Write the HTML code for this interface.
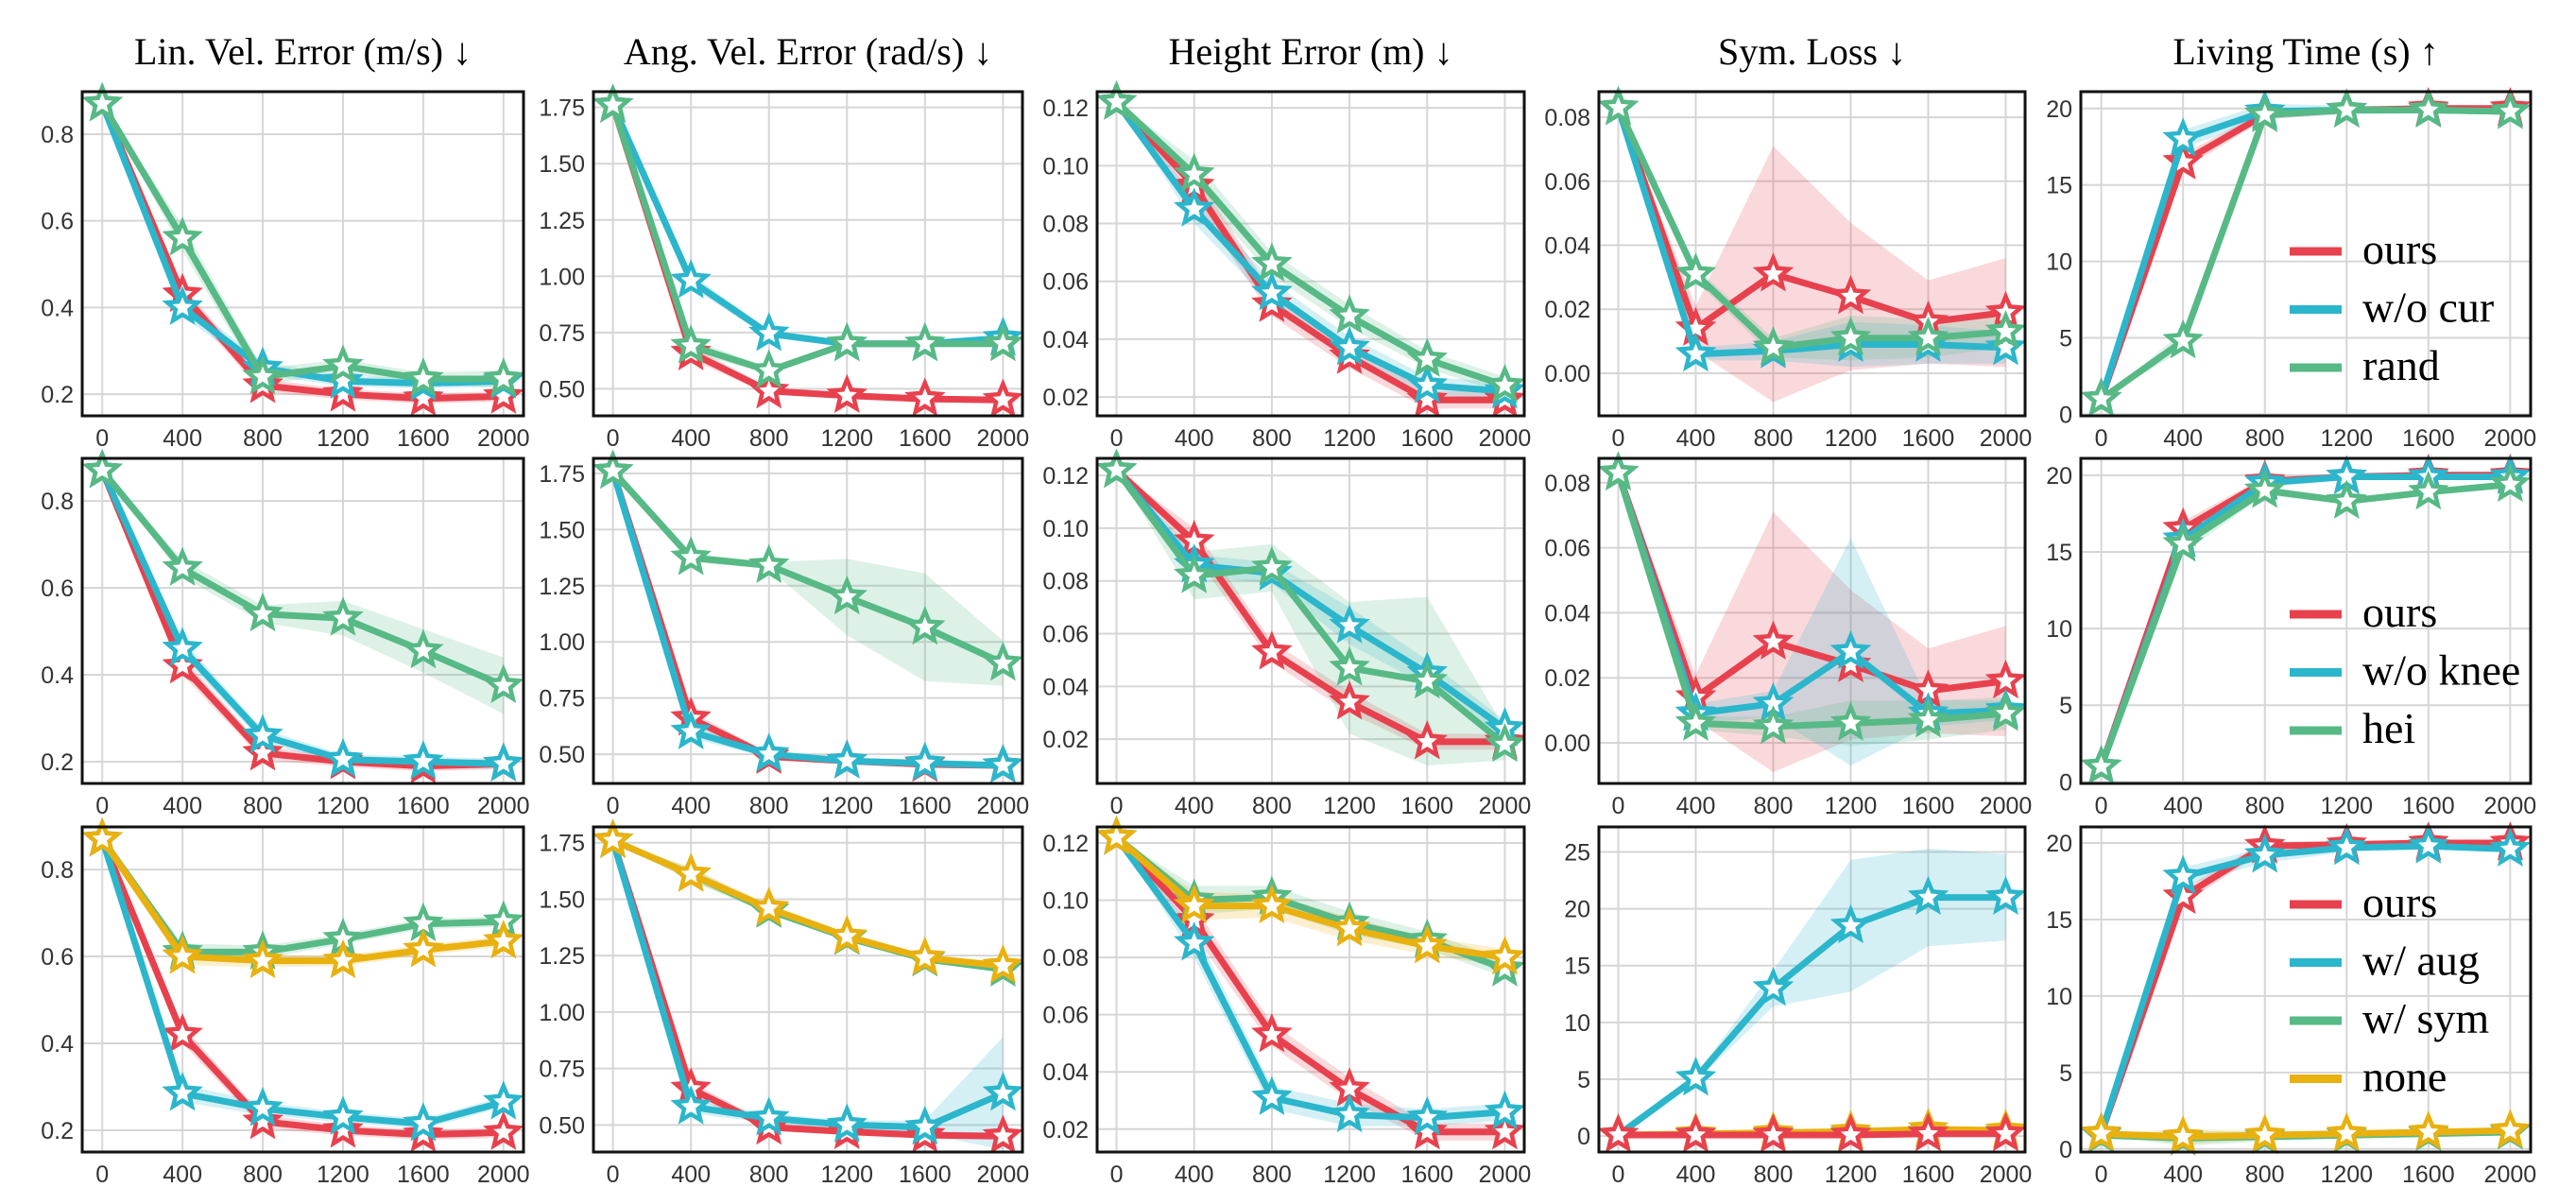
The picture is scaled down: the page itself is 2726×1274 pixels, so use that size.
<!DOCTYPE html>
<html><head><meta charset="utf-8">
<style>
html,body{margin:0;padding:0;background:#fff;}
svg{display:block;}
text{font-family:"Liberation Sans",sans-serif;}
.title{font-family:"Liberation Serif","DejaVu Serif",serif;font-size:40px;fill:#000;}
.leg{font-family:"Liberation Serif",serif;font-size:46px;fill:#000;}
.tick{font-size:25px;fill:#333;}
</style></head>
<body>
<svg id="fig" width="2726" height="1274" viewBox="0 0 2726 1274" xmlns="http://www.w3.org/2000/svg"></svg>
<script>
// ---- data ----
const steps = [0,400,800,1200,1600,2000];
const xTicks = [0,400,800,1200,1600,2000];
const titles = ["Lin. Vel. Error (m/s) \u2193","Ang. Vel. Error (rad/s) \u2193","Height Error (m) \u2193","Sym. Loss \u2193","Living Time (s) \u2191"];
const legendRow1 = ["ours","w/o cur","rand"];
const legendRow2 = ["ours","w/o knee","hei"];
const legendRow3 = ["ours","w/ aug","w/ sym","none"];

// Row 1: ours, w/o cur, rand
const r1_lin_ours = [0.87,0.43,0.22,0.20,0.19,0.195];
const r1_lin_cur  = [0.87,0.40,0.26,0.23,0.225,0.23];
const r1_lin_rand = [0.87,0.56,0.24,0.265,0.235,0.235];
const r1_ang_ours = [1.76,0.66,0.49,0.47,0.455,0.45];
const r1_ang_cur  = [1.76,0.98,0.745,0.70,0.70,0.725];
const r1_ang_rand = [1.76,0.69,0.58,0.70,0.70,0.70];
const r1_hei_ours = [0.122,0.093,0.052,0.034,0.019,0.019];
const r1_hei_cur  = [0.122,0.085,0.056,0.037,0.024,0.022];
const r1_hei_rand = [0.122,0.097,0.066,0.048,0.033,0.024];
const r1_sym_ours = [0.083,0.014,0.031,0.024,0.016,0.019];
const r1_sym_cur  = [0.083,0.006,0.007,0.009,0.009,0.008];
const r1_sym_rand = [0.083,0.031,0.008,0.011,0.011,0.013];
const r1_liv_ours = [1,16.5,19.6,19.9,20,20];
const r1_liv_cur  = [1,18,19.8,19.9,19.9,19.8];
const r1_liv_rand = [1,4.8,19.6,19.9,19.9,19.8];
// Row 2: ours, w/o knee, hei
const r2_lin_ours = [0.87,0.42,0.22,0.20,0.19,0.195];
const r2_lin_knee = [0.87,0.46,0.26,0.205,0.20,0.195];
const r2_lin_hei  = [0.87,0.645,0.54,0.53,0.455,0.375];
const r2_ang_ours = [1.76,0.66,0.49,0.47,0.455,0.45];
const r2_ang_knee = [1.76,0.60,0.50,0.47,0.46,0.45];
const r2_ang_hei  = [1.76,1.375,1.34,1.2,1.065,0.905];
const r2_hei_ours = [0.122,0.095,0.053,0.034,0.019,0.019];
const r2_hei_knee = [0.122,0.086,0.083,0.063,0.045,0.024];
const r2_hei_hei  = [0.122,0.082,0.085,0.047,0.042,0.018];
const r2_sym_ours = [0.083,0.014,0.031,0.024,0.016,0.019];
const r2_sym_knee = [0.083,0.009,0.012,0.028,0.009,0.010];
const r2_sym_hei  = [0.083,0.006,0.005,0.006,0.007,0.009];
const r2_liv_ours = [1,16.5,19.6,19.9,20,20];
const r2_liv_knee = [1,15.8,19.5,19.9,19.9,19.9];
const r2_liv_hei  = [1,15.5,19.0,18.3,18.9,19.4];
// Row 3: ours, w/ aug, w/ sym, none
const r3_lin_ours = [0.87,0.42,0.22,0.20,0.19,0.195];
const r3_lin_aug  = [0.87,0.285,0.25,0.23,0.215,0.265];
const r3_lin_sym  = [0.87,0.61,0.61,0.64,0.675,0.68];
const r3_lin_none = [0.87,0.60,0.59,0.59,0.615,0.635];
const r3_ang_ours = [1.76,0.66,0.49,0.47,0.455,0.45];
const r3_ang_aug  = [1.76,0.58,0.53,0.50,0.49,0.64];
const r3_ang_sym  = [1.76,1.61,1.45,1.33,1.235,1.19];
const r3_ang_none = [1.76,1.61,1.46,1.335,1.24,1.205];
const r3_hei_ours = [0.122,0.093,0.053,0.034,0.019,0.019];
const r3_hei_aug  = [0.122,0.085,0.031,0.025,0.024,0.026];
const r3_hei_sym  = [0.122,0.100,0.101,0.092,0.086,0.076];
const r3_hei_none = [0.122,0.098,0.098,0.090,0.084,0.080];
const r3_sym_ours = [0.1,0.1,0.1,0.1,0.2,0.2];
const r3_sym_aug  = [0.1,5.1,13,18.5,21,21];
const r3_sym_sym  = [0.1,0.1,0.15,0.2,0.3,0.3];
const r3_sym_none = [0.1,0.2,0.3,0.4,0.6,0.5];
const r3_liv_ours = [1,16.5,19.8,19.9,20,20];
const r3_liv_aug  = [1,17.8,19.2,19.7,19.8,19.6];
const r3_liv_sym  = [0.9,0.7,0.8,0.9,1.0,1.1];
const r3_liv_none = [1,0.8,0.9,1.0,1.1,1.2];

// error half-widths (shaded bands)
const e_small_lin = [0,0.02,0.015,0.012,0.012,0.012];
const e_rand_lin  = [0,0.03,0.02,0.015,0.015,0.02];
const e_hei_lin   = [0,0.02,0.02,0.04,0.05,0.065];
const e_small_ang = [0,0.03,0.015,0.015,0.015,0.015];
const e_hei_ang   = [0,0.02,0.015,0.17,0.24,0.1];
const e_aug_ang   = [0,0.03,0.02,0.02,0.03,0.25];
const e_small_hei = [0,0.005,0.004,0.004,0.003,0.003];
const e_r2hei_hei = [0,0.009,0.009,0.025,0.032,0.006];
const e_r2knee_hei= [0,0.004,0.004,0.007,0.005,0.003];
const e_r1sym_ours= [0,0.007,0.04,0.023,0.013,0.017];
const e_r2sym_knee= [0,0.003,0.004,0.035,0.004,0.003];
const e_small_sym = [0,0.002,0.003,0.007,0.006,0.005];
const e_aug_sym   = [0,0.3,1.6,5.8,4.3,3.8];
const e_zero_sym  = [0,0.1,0.1,0.1,0.1,0.1];
const e_small_liv = [0,0.5,0.3,0.2,0.2,0.2];
const e_rand_liv  = [0,0.6,0.3,0.2,0.2,0.2];
const e_cur_liv   = [0,0.6,0.5,0.3,0.2,0.2];

const C = {red:"#e8414e", cyan:"#2bb6cc", green:"#57b985", yellow:"#e9b10f"};

// ---- layout ----
const colX = [[87,554],[628,1082],[1161,1613],[1692,2143],[2202,2678]];
const rowY = [[97,440],[485,829],[875,1219]];
const yRanges = [
 [[0.15,0.898],[0.38,1.82],[0.0135,0.1256],[-0.0133,0.088],[-0.1,21.1]],
 [[0.15,0.898],[0.37,1.817],[0.0032,0.1265],[-0.0125,0.0875],[-0.1,21.1]],
 [[0.15,0.898],[0.38,1.82],[0.012,0.1256],[-1.4,27.2],[-0.2,21.05]]
];
const yTicksCol = [
 {v:[0.2,0.4,0.6,0.8], f:1},
 {v:[0.5,0.75,1.0,1.25,1.5,1.75], f:2},
 {v:[0.02,0.04,0.06,0.08,0.10,0.12], f:2},
 {v:[0.00,0.02,0.04,0.06,0.08], f:2},
 {v:[0,5,10,15,20], f:0}
];
const symTicksRow3 = [0,5,10,15,20,25];

const panels = [
 [ [[r1_lin_ours,e_small_lin,C.red],[r1_lin_cur,e_small_lin,C.cyan],[r1_lin_rand,e_rand_lin,C.green]],
   [[r1_ang_ours,e_small_ang,C.red],[r1_ang_cur,e_small_ang,C.cyan],[r1_ang_rand,e_small_ang,C.green]],
   [[r1_hei_ours,e_small_hei,C.red],[r1_hei_cur,e_small_hei,C.cyan],[r1_hei_rand,e_small_hei,C.green]],
   [[r1_sym_ours,e_r1sym_ours,C.red],[r1_sym_cur,e_small_sym,C.cyan],[r1_sym_rand,e_small_sym,C.green]],
   [[r1_liv_ours,e_small_liv,C.red],[r1_liv_cur,e_cur_liv,C.cyan],[r1_liv_rand,e_rand_liv,C.green]] ],
 [ [[r2_lin_ours,e_small_lin,C.red],[r2_lin_knee,e_small_lin,C.cyan],[r2_lin_hei,e_hei_lin,C.green]],
   [[r2_ang_ours,e_small_ang,C.red],[r2_ang_knee,e_small_ang,C.cyan],[r2_ang_hei,e_hei_ang,C.green]],
   [[r2_hei_ours,e_small_hei,C.red],[r2_hei_knee,e_r2knee_hei,C.cyan],[r2_hei_hei,e_r2hei_hei,C.green]],
   [[r2_sym_ours,e_r1sym_ours,C.red],[r2_sym_knee,e_r2sym_knee,C.cyan],[r2_sym_hei,e_small_sym,C.green]],
   [[r2_liv_ours,e_small_liv,C.red],[r2_liv_knee,e_small_liv,C.cyan],[r2_liv_hei,e_rand_liv,C.green]] ],
 [ [[r3_lin_ours,e_small_lin,C.red],[r3_lin_aug,e_small_lin,C.cyan],[r3_lin_sym,e_small_lin,C.green],[r3_lin_none,e_small_lin,C.yellow]],
   [[r3_ang_ours,e_small_ang,C.red],[r3_ang_aug,e_aug_ang,C.cyan],[r3_ang_sym,e_small_ang,C.green],[r3_ang_none,e_small_ang,C.yellow]],
   [[r3_hei_ours,e_small_hei,C.red],[r3_hei_aug,e_small_hei,C.cyan],[r3_hei_sym,e_small_hei,C.green],[r3_hei_none,e_small_hei,C.yellow]],
   [[r3_sym_aug,e_aug_sym,C.cyan],[r3_sym_sym,e_zero_sym,C.green],[r3_sym_none,e_zero_sym,C.yellow],[r3_sym_ours,e_zero_sym,C.red]],
   [[r3_liv_ours,e_small_liv,C.red],[r3_liv_aug,e_cur_liv,C.cyan],[r3_liv_sym,e_small_liv,C.green],[r3_liv_none,e_small_liv,C.yellow]] ]
];
const legends = [
 {labels:legendRow1, colors:[C.red,C.cyan,C.green], y0:266},
 {labels:legendRow2, colors:[C.red,C.cyan,C.green], y0:650},
 {labels:legendRow3, colors:[C.red,C.cyan,C.green,C.yellow], y0:957}
];

// ---- drawing ----
const NS = "http://www.w3.org/2000/svg";
const svg = document.getElementById("fig");
function mk(tag, attrs, parent){
  const e = document.createElementNS(NS, tag);
  for (const k in attrs) e.setAttribute(k, attrs[k]);
  (parent||svg).appendChild(e);
  return e;
}
function starPath(cx, cy, R){
  const r = R*0.45; let d = "";
  for (let i=0;i<10;i++){
    const rr = i%2===0 ? R : r;
    const a = -Math.PI/2 + i*Math.PI/5;
    d += (i===0?"M":"L") + (cx+rr*Math.cos(a)).toFixed(1) + "," + (cy+rr*Math.sin(a)).toFixed(1);
  }
  return d + "Z";
}

// titles
titles.forEach((t,c)=>{
  const tx = mk("text",{x:(colX[c][0]+colX[c][1])/2, y:68, "text-anchor":"middle", class:"title"});
  tx.textContent = t;
  
  
});

for (let r=0;r<3;r++){
  for (let c=0;c<5;c++){
    const [x0,x1] = colX[c], [y0,y1] = rowY[r];
    const [ymin,ymax] = yRanges[r][c];
    const xs = v => x0 + (v + 100)/2200*(x1-x0);
    const ys = v => y1 - (v - ymin)/(ymax-ymin)*(y1-y0);
    const g = mk("g",{});
    
    
    const clipId = "clip"+r+c;
    const cp = mk("clipPath",{id:clipId}, g);
    mk("rect",{x:x0,y:y0,width:x1-x0,height:y1-y0}, cp);
    xTicks.forEach(v=>{
      const l = mk("line",{x1:xs(v),x2:xs(v),y1:y0,y2:y1,stroke:"#d6d6d6","stroke-width":2}, g);
      
      
      const t = mk("text",{x:xs(v), y:y1+32, "text-anchor":"middle", class:"tick"}, g);
      t.textContent = v;
      
      
    });
    let tv = yTicksCol[c].v, tf = yTicksCol[c].f;
    if (r===2 && c===3){ tv = symTicksRow3; tf = 0; }
    tv.forEach(v=>{
      const l = mk("line",{x1:x0,x2:x1,y1:ys(v),y2:ys(v),stroke:"#d6d6d6","stroke-width":2}, g);
      
      
      const t = mk("text",{x:x0-9, y:ys(v)+9, "text-anchor":"end", class:"tick"}, g);
      t.textContent = v.toFixed(tf);
      
      
    });
    const series = panels[r][c];
    const cg = mk("g",{"clip-path":"url(#"+clipId+")"}, g);
    series.forEach(([vals,err,col])=>{
      let d = "";
      steps.forEach((s,i)=>{ d += (i?"L":"M")+xs(s).toFixed(1)+","+ys(vals[i]+err[i]).toFixed(1); });
      for (let i=steps.length-1;i>=0;i--) d += "L"+xs(steps[i]).toFixed(1)+","+ys(vals[i]-err[i]).toFixed(1);
      const p = mk("path",{d:d+"Z", fill:col, "fill-opacity":0.2, stroke:"none"}, cg);
      
      
    });
    series.forEach(([vals,err,col])=>{
      const pts = steps.map((s,i)=>xs(s).toFixed(1)+","+ys(vals[i]).toFixed(1)).join(" ");
      const pl = mk("polyline",{points:pts, fill:"none", stroke:col, "stroke-width":7, "stroke-linejoin":"round"}, g);
      
      
      steps.forEach((s,i)=>{
        const m = mk("path",{d:starPath(xs(s), ys(vals[i]), 17), fill:"#fff", stroke:col, "stroke-width":4.5, "stroke-linejoin":"miter"}, g);
        
        
      });
    });
    const box = mk("rect",{x:x0,y:y0,width:x1-x0,height:y1-y0,fill:"none",stroke:"#111","stroke-width":3}, g);
    
    
  }
}

legends.forEach((L,r)=>{
  const lg = mk("g",{});
  
  
  L.labels.forEach((lab,i)=>{
    const y = L.y0 + i*61.5;
    const ln = mk("line",{x1:2423,x2:2478,y1:y,y2:y,stroke:L.colors[i],"stroke-width":9}, lg);
    
    
    const t = mk("text",{x:2500, y:y+13, class:"leg", textLength: null}, lg);
    t.removeAttribute("textLength");
    t.textContent = lab;
    
    
  });
});
</script>
</body></html>
